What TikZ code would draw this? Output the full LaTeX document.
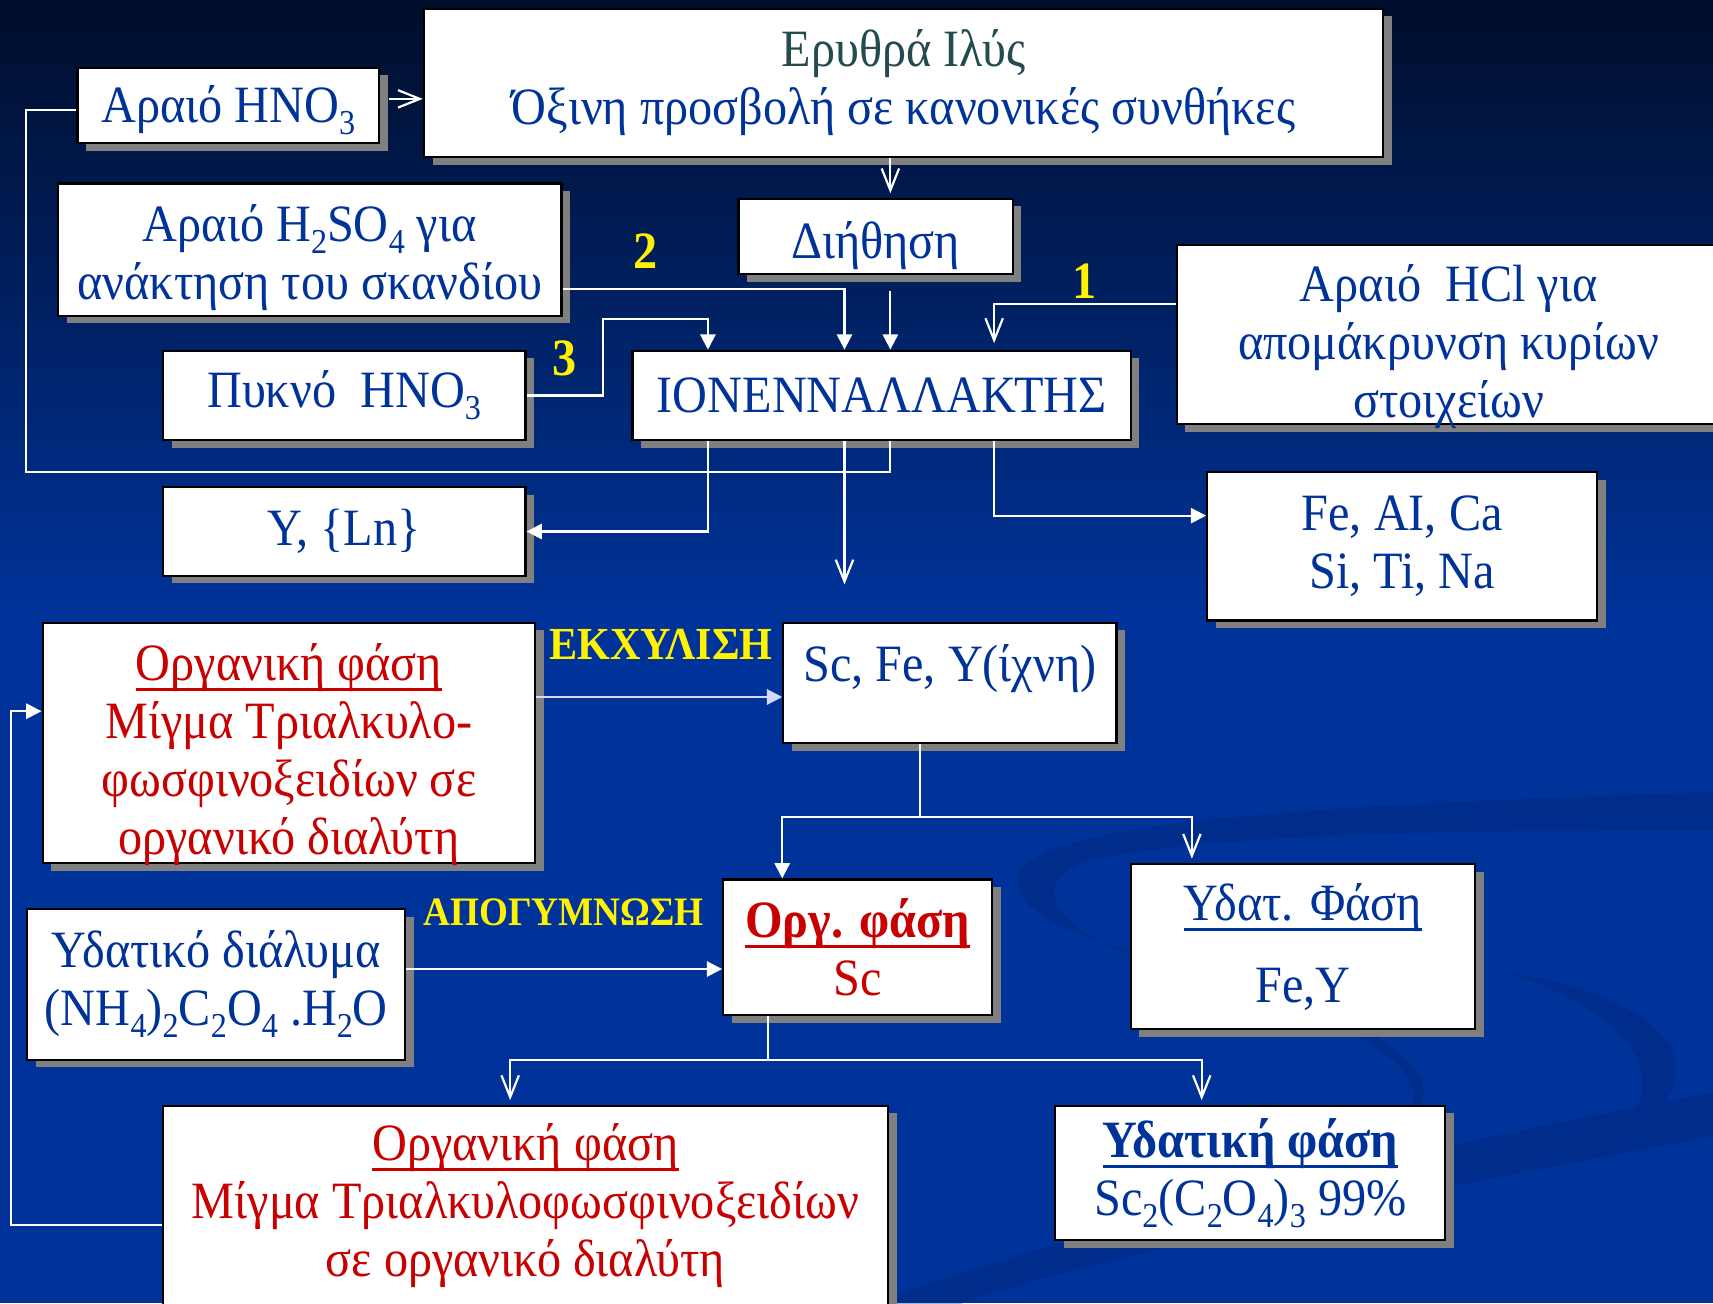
\documentclass[tikz,border=0pt]{standalone}
\usepackage{fontspec}
\setmainfont{Liberation Serif}[FakeStretch=0.92]
\usetikzlibrary{arrows.meta,shadows}
\definecolor{tblue}{RGB}{0,51,153}
\definecolor{tred}{RGB}{200,0,0}
\definecolor{tslate}{RGB}{35,75,80}
\definecolor{shadowgray}{RGB}{128,128,128}
\definecolor{lav}{RGB}{215,215,255}
\definecolor{bgblue}{RGB}{0,51,153}
\definecolor{bgmid}{RGB}{0,28,92}
\definecolor{bgtop}{RGB}{0,8,26}
\definecolor{swoosh}{RGB}{0,44,140}
\newsavebox{\ulbox}
\newcommand{\uln}[1]{\sbox{\ulbox}{#1}\leavevmode\rlap{\rule[-5pt]{\wd\ulbox}{1.5pt}}\usebox{\ulbox}}
\newcommand{\chsub}[1]{\raisebox{-0.5ex}{\fontsize{16}{16}\selectfont #1}}
\newcommand{\topgap}[1]{\rule{0pt}{#1}}
\tikzset{
  box/.style={draw=black, line width=1pt, fill=white, inner sep=2pt, align=center, text=tblue,
    drop shadow={shadow xshift=4pt, shadow yshift=-3.5pt, fill=shadowgray, opacity=1}},
  boxtext/.style={align=center, text=tblue},
  wire/.style={draw=white, line width=1pt},
  openarr/.style={wire, -{Straight Barb[length=10pt,width=8pt]}},
  fillarr/.style={wire, -{Triangle[length=7pt,width=7pt]}},
  lavarr/.style={fillarr, draw=lav, -{Triangle[length=7pt,width=7pt,fill=lav]}},
  num/.style={text=yellow, font=\fontsize{24}{28}\selectfont\bfseries},
  stage/.style={text=yellow, font=\fontsize{21}{24}\selectfont\bfseries}
}
\begin{document}
\begin{tikzpicture}[x=0.5pt,y=-0.5pt,font=\fontsize{24}{26.5}\selectfont]
\useasboundingbox (0,0) rectangle (1568,1193);
\fill[bgblue] (0,0) rectangle (1568,1193);
\shade[top color=bgtop, middle color=bgmid, bottom color=bgblue] (0,-80) rectangle (1568,560);
\fill[swoosh] (1568,725) .. controls (1100,740) and (900,760) .. (935,820) .. controls (970,880) and (1250,900) .. (1300,985) .. controls (1310,1005) and (1295,1020) .. (1280,1025) .. controls (1330,990) and (1240,930) .. (1100,895) .. controls (960,860) and (940,810) .. (990,790) .. controls (1100,760) and (1400,760) .. (1568,760) -- cycle;
\fill[swoosh] (1380,890) .. controls (1560,920) and (1568,1000) .. (1480,1040) .. controls (1530,990) and (1500,930) .. (1380,890) -- cycle;
\fill[swoosh] (1568,1000) -- (1568,1040) .. controls (1300,1090) and (1000,1150) .. (880,1193) -- (800,1193) .. controls (1000,1120) and (1300,1050) .. (1568,1000) -- cycle;

\node[box, minimum width=439pt, minimum height=68pt] (eryth) at (827,76) {\textcolor{tslate}{Ερυθρά Ιλύς}\\Όξινη προσβολή σε κανονικές συνθήκες};
\node[box, minimum width=138pt, minimum height=34.5pt] (hno3a) at (209,96.5) {\topgap{21pt}Αραιό HNO\chsub{3}};
\node[box, minimum width=230.5pt, minimum height=60.5pt] (hso) at (283.5,228.5) {\topgap{24.5pt}Αραιό H\chsub{2}SO\chsub{4} για\\ανάκτηση του σκανδίου};
\node[box, minimum width=125.5pt, minimum height=34.5pt] (dieth) at (801.5,216.5) {\topgap{25.5pt}Διήθηση};
\node[box, minimum width=249pt, minimum height=82pt,
  label={[boxtext, yshift=-5.5pt]center:Αραιό\ \ HCl για\\απομάκρυνση κυρίων\\στοιχείων}] (hcl) at (1326,306) {};
\node[box, minimum width=228pt, minimum height=41pt] (ionex) at (807,362) {ΙΟΝΕΝΝΑΛΛΑΚΤΗΣ};
\node[box, minimum width=166pt, minimum height=41pt] (pykno) at (315,362) {Πυκνό\ \ HNO\chsub{3}};
\node[box, minimum width=166pt, minimum height=40.5pt] (yln) at (315,486.5) {Y, \{Ln\}};
\node[box, minimum width=178.5pt, minimum height=68pt] (feal) at (1283.5,500) {Fe, AI, Ca\\Si, Ti, Na};
\node[box, minimum width=225.5pt, minimum height=110pt,
  label={[boxtext, text=tred, yshift=-5.25pt]center:\uln{Οργανική φάση}\\Μίγμα Τριαλκυλο-\\φωσφινοξειδίων σε\\οργανικό διαλύτη}] (org1) at (264.5,680) {};
\node[box, minimum width=152.5pt, minimum height=55pt] (scfe) at (869.5,625) {Sc, Fe, Y(ίχνη)\\[-8pt]\mbox{}};
\node[box, text=tred, minimum width=123pt, minimum height=62pt] (orgsc) at (785,867) {\textbf{\uln{Οργ. φάση}}\\Sc};
\node[box, minimum width=157.5pt, minimum height=75.5pt] (ydat1) at (1192.5,866.5) {\uln{Υδατ. Φάση}\\[11pt]Fe,Y};
\node[box, minimum width=173pt, minimum height=69pt] (ydiad) at (198,901) {Υδατικό διάλυμα\\(NH\chsub{4})\chsub{2}C\chsub{2}O\chsub{4} .H\chsub{2}O};
\node[box, text=tred, minimum width=332pt, minimum height=91.5pt] (org2) at (481,1103.5) {\uln{Οργανική φάση}\\Μίγμα Τριαλκυλοφωσφινοξειδίων\\σε οργανικό διαλύτη};
\node[box, minimum width=178.5pt, minimum height=61.5pt] (ydatk) at (1144.5,1073.5) {\textbf{\uln{Υδατική φάση}}\\Sc\chsub{2}(C\chsub{2}O\chsub{4})\chsub{3} 99\%};

\node[num] (n2) at (591,230) {2};
\node[num] (n3) at (517,328) {3};
\node[num] (n1) at (993,257) {1};
\node[stage] (ekx) at (605,590) {ΕΚΧΥΛΙΣΗ};
\node[stage, font=\fontsize{18.5}{22}\selectfont\bfseries] (apog) at (516,835) {ΑΠΟΓΥΜΝΩΣΗ};

\coordinate (cdown) at (815,0);
\coordinate (ionexout) at (773,535);
\coordinate (split1) at (842,748);
\coordinate (split2) at (703,970);
\coordinate (d1) at ([yshift=-7pt]dieth.south);
\coordinate (lp) at ([yshift=-14pt]ionex.south);

\draw[openarr] ([xshift=4pt,yshift=3pt]hno3a.east) coordinate (a1) -- (eryth.west |- a1);
\draw[openarr, shorten >=2pt] (eryth.south -| cdown) -- (dieth.north -| cdown);
\draw[fillarr] (d1 -| cdown) -- (ionex.north -| cdown);
\draw[fillarr] ([yshift=-18pt]hso.east) -| ([xshift=-17pt]ionex.north);
\draw[fillarr] (pykno.east) -- ++(35pt,0) |- ([xshift=-79.5pt,yshift=14pt]ionex.north) -- ([xshift=-79.5pt]ionex.north);
\draw[openarr, shorten >=3pt] ([yshift=14pt]hcl.west) -| ([xshift=51.5pt]ionex.north);
\draw[wire] ([yshift=-2.25pt]hno3a.west) -- ++(-23pt,0) |- (lp -| cdown) -- (ionex.south -| cdown);
\draw[fillarr] ([xshift=-79.5pt]ionex.south) |- (yln.east);
\draw[openarr] ([xshift=-17pt]ionex.south) -- (ionexout);
\draw[fillarr] ([xshift=51.5pt]ionex.south) |- ([yshift=14pt]feal.west);
\draw[lavarr] ([yshift=21pt]org1.east) coordinate (a2) -- (scfe.west |- a2);
\draw[wire] (scfe.south -| split1) -- (split1);
\draw[fillarr] (split1) -| ([xshift=-34.5pt]orgsc.north);
\draw[openarr, shorten >=2pt] (split1) -| ([xshift=-50.75pt]ydat1.north);
\draw[fillarr] ([yshift=7pt]ydiad.east) coordinate (a3) -- (orgsc.west |- a3);
\draw[wire] (orgsc.south -| split2) -- (split2);
\draw[openarr, shorten >=2pt] (split2) -| ([xshift=-7pt]org2.north);
\draw[openarr, shorten >=2pt] (split2) -| ([xshift=-22.25pt]ydatk.north);
\draw[fillarr] ([yshift=-9pt]org2.west) -- ++(-69pt,0) |- ([yshift=14.5pt]org1.west);
\end{tikzpicture}
\end{document}
